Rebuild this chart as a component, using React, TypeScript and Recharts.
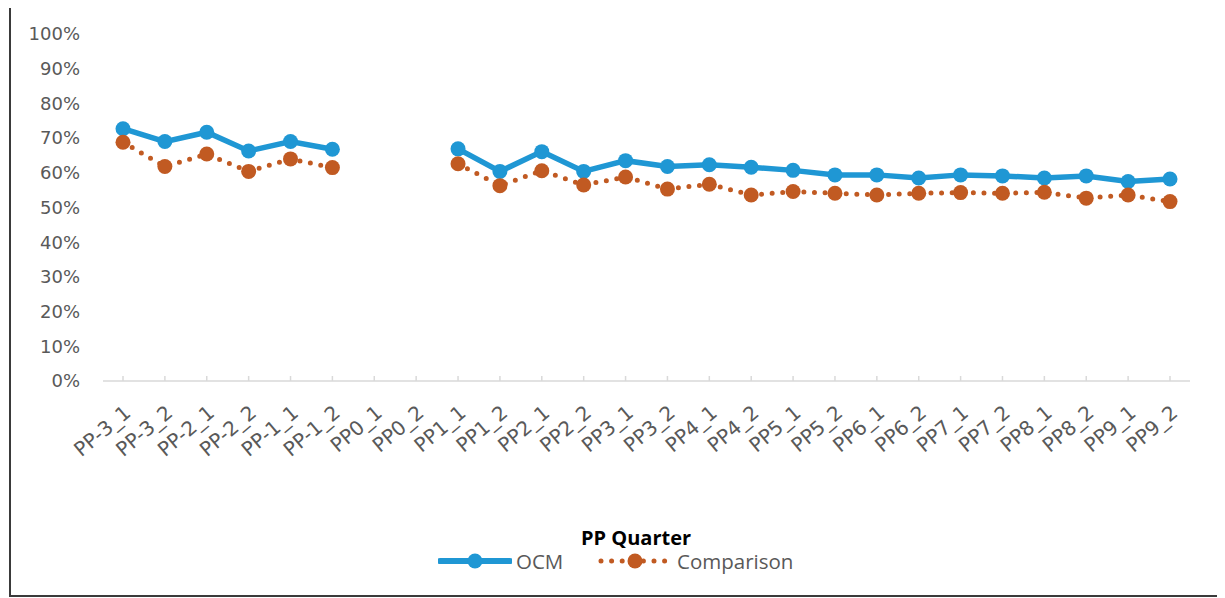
import { LineChart, Line, XAxis, YAxis, Legend } from 'recharts'

const quarters = [
  'PP-3_1', 'PP-3_2', 'PP-2_1', 'PP-2_2', 'PP-1_1', 'PP-1_2',
  'PP0_1', 'PP0_2',
  'PP1_1', 'PP1_2', 'PP2_1', 'PP2_2', 'PP3_1', 'PP3_2', 'PP4_1', 'PP4_2',
  'PP5_1', 'PP5_2', 'PP6_1', 'PP6_2', 'PP7_1', 'PP7_2', 'PP8_1', 'PP8_2',
  'PP9_1', 'PP9_2',
]

// percent, null = no data for that quarter
const ocm = [
  72.7, 69.0, 71.7, 66.3, 69.0, 66.8,
  null, null,
  66.9, 60.4, 66.1, 60.4, 63.5, 61.8, 62.3, 61.6,
  60.7, 59.4, 59.4, 58.5, 59.4, 59.1, 58.5, 59.1,
  57.5, 58.2,
]

const comparison = [
  68.8, 61.8, 65.4, 60.4, 64.0, 61.5,
  null, null,
  62.6, 56.3, 60.6, 56.5, 58.8, 55.3, 56.7, 53.6,
  54.6, 54.1, 53.6, 54.1, 54.3, 54.1, 54.4, 52.7,
  53.6, 51.7,
]

const yTicks = [0, 10, 20, 30, 40, 50, 60, 70, 80, 90, 100]

const BLUE = '#1f97d4'
const ORANGE = '#c15a22'
const GREY_TEXT = '#595959'
const FONT = '"Open Sans", sans-serif'
const TICK_FONT = '"DejaVu Sans", sans-serif'

const data = quarters.map((q, i) => ({ quarter: q, OCM: ocm[i], Comparison: comparison[i] }))

const LegendBox = () => (
  <div style={{ position: 'relative', height: 56, fontFamily: FONT }}>
    <div
      style={{
        position: 'absolute', left: 0, width: 1250, top: 4, height: 26, lineHeight: '26px',
        textAlign: 'center', fontWeight: 700, fontSize: 20, color: '#000',
      }}
    >
      PP Quarter
    </div>
    <svg style={{ position: 'absolute', left: 427, top: 28 }} width={74} height={24}>
      <line x1={2} y1={12} x2={72} y2={12} stroke={BLUE} strokeWidth={6} strokeLinecap="round" />
      <circle cx={37} cy={12} r={7.5} fill={BLUE} />
    </svg>
    <div style={{ position: 'absolute', left: 505, top: 28, height: 24, lineHeight: '24px', fontSize: 20.5, color: GREY_TEXT }}>
      OCM
    </div>
    <svg style={{ position: 'absolute', left: 587, top: 28 }} width={70} height={24}>
      <line
        x1={3} y1={12} x2={67} y2={12} stroke={ORANGE} strokeWidth={5}
        strokeLinecap="round" strokeDasharray="0 10.6"
      />
      <circle cx={37} cy={12} r={7.5} fill={ORANGE} />
    </svg>
    <div style={{ position: 'absolute', left: 666, top: 28, height: 24, lineHeight: '24px', fontSize: 20.5, color: GREY_TEXT }}>
      Comparison
    </div>
  </div>
)

export default function App() {
  return (
    <div
      style={{
        position: 'relative', marginTop: -3, marginLeft: 1, width: 1206, height: 588,
        border: '2px solid #3a3a3a', background: '#fff',
      }}
    >
      <LineChart
        width={1206}
        height={588}
        data={data}
        margin={{ top: 27, right: 27, bottom: 18, left: 0 }}
        style={{ fontFamily: FONT }}
      >
        <XAxis
          dataKey="quarter"
          interval={0}
          padding={{ left: 20, right: 20 }}
          height={140}
          axisLine={{ stroke: '#d9d9d9', strokeWidth: 1.5 }}
          tickLine={{ stroke: '#d9d9d9', strokeWidth: 1.5 }}
          tickSize={-5}
          tickMargin={28}
          tick={{ fill: GREY_TEXT, fontSize: 20, fontFamily: TICK_FONT, angle: -40, textAnchor: 'end' }}
        />
        <YAxis
          width={92}
          domain={[0, 100]}
          ticks={yTicks}
          interval={0}
          axisLine={false}
          tickLine={false}
          tickSize={0}
          tickMargin={23}
          tickFormatter={(v) => `${v}%`}
          tick={{ fill: GREY_TEXT, fontSize: 18, fontFamily: TICK_FONT }}
        />
        <Legend verticalAlign="bottom" content={<LegendBox />} />
        <Line
          dataKey="OCM"
          stroke={BLUE}
          strokeWidth={5.5}
          dot={{ r: 7.5, fill: BLUE, stroke: BLUE, strokeWidth: 0 }}
          activeDot={false}
          isAnimationActive={false}
        />
        <Line
          dataKey="Comparison"
          stroke={ORANGE}
          strokeWidth={5}
          strokeLinecap="round"
          strokeDasharray="0 10.6"
          dot={{ r: 7.5, fill: ORANGE, stroke: ORANGE, strokeWidth: 0, strokeDasharray: '0' }}
          activeDot={false}
          isAnimationActive={false}
        />
      </LineChart>
    </div>
  )
}
